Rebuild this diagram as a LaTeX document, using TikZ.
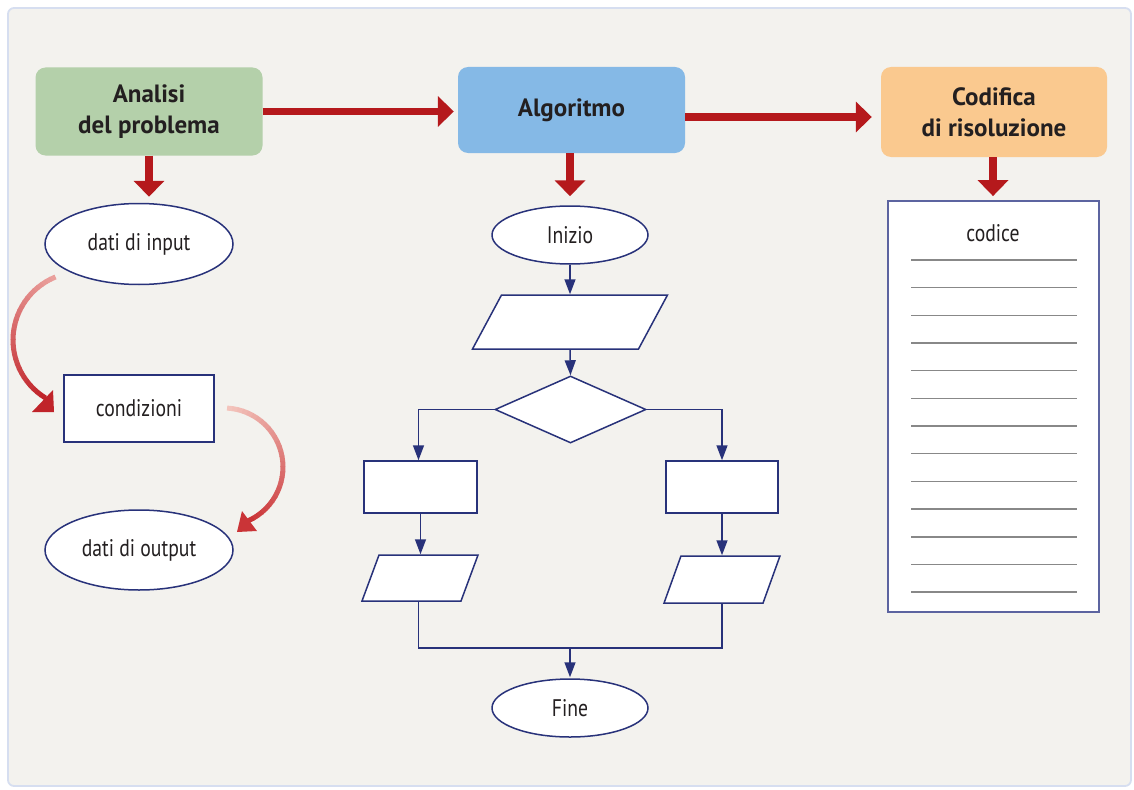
\documentclass[tikz,border=0pt]{standalone}
\usepackage{fontspec}
\setmainfont{PT Sans}
\newfontfamily\regfont[FakeStretch=0.82]{PT Sans}
\newfontfamily\headfont[FakeStretch=1.0]{PT Sans}
\usetikzlibrary{arrows.meta,shapes.geometric}

\definecolor{bgpanel}{RGB}{243,242,238}
\definecolor{panelrim}{RGB}{214,222,240}
\definecolor{greenbox}{RGB}{180,208,170}
\definecolor{bluebox}{RGB}{133,185,230}
\definecolor{orangebox}{RGB}{250,201,143}
\definecolor{darkred}{RGB}{181,25,28}
\definecolor{navy}{RGB}{40,50,122}
\definecolor{docrim}{RGB}{92,100,160}
\definecolor{rulegray}{RGB}{136,136,136}
\definecolor{inkgray}{RGB}{35,31,32}
\definecolor{curvelightA}{RGB}{234,160,156}
\definecolor{curvedarkA}{RGB}{192,36,42}
\definecolor{curvelightB}{RGB}{243,196,188}
\definecolor{curvedarkB}{RGB}{202,52,55}

\tikzset{
  headbox/.style={rounded corners=10pt, minimum width=227pt, minimum height=88pt,
    align=center, text=inkgray, font=\headfont\bfseries\fontsize{25}{31}\selectfont},
  redarrow/.style={draw=darkred, line width=7.5pt, -{Triangle[length=16pt,width=30pt]}},
  flowline/.style={draw=navy, line width=1.5pt},
  flowarrow/.style={flowline, -{Triangle[length=15pt,width=11pt]}},
  shapeline/.style={draw=navy, line width=1.5pt, fill=white, inner sep=0pt,
    text=inkgray, font=\regfont\fontsize{24}{28}\selectfont},
  termnode/.style={shapeline, ellipse, minimum width=156pt, minimum height=58pt},
  datanode/.style={shapeline, ellipse, minimum width=188pt, minimum height=81pt},
  procnode/.style={shapeline, rectangle, minimum width=113pt, minimum height=52pt},
  ionode/.style={shapeline, rectangle},
  decnode/.style={shapeline, diamond, minimum width=151pt, minimum height=67pt},
  curveline/.style={line width=5pt},
}

\begin{document}
\begin{tikzpicture}[x=1pt,y=-1pt]
\useasboundingbox (0,0) rectangle (1134,789);
\fill[white] (0,0) rectangle (1134,789);
\draw[fill=bgpanel, draw=panelrim, line width=1.8pt, rounded corners=6pt] (8,8) rectangle (1131,786);

% three stage boxes
\node[headbox, fill=greenbox] (an) at (149,111.5) {Analisi\\del problema};
\node[headbox, fill=bluebox, minimum height=86pt] (alg) at (571.5,110) {Algoritmo};
\node[headbox, fill=orangebox, minimum width=226pt, minimum height=90pt] (cod) at (994,112) {Codifica\\di risoluzione};

% left column: problem analysis
\node[datanode] (din) at (139,244) {dati di input};
\node[shapeline, rectangle, minimum width=150pt, minimum height=67pt] (cond) at (139,408.5) {condizioni};
\node[datanode, minimum height=80pt] (dout) at (139,550) {dati di output};

% middle column: flowchart
\node[termnode] (ini) at (570,235) {Inizio};
\node[ionode, xslant=0.537, minimum width=166pt, minimum height=54pt] (p1) at (570,322) {};
\node[decnode] (dia) at (570.5,409.5) {};
\node[procnode] (r1) at (420.5,487) {};
\node[procnode, minimum width=112pt] (r2) at (722,487) {};
\node[ionode, xslant=0.37, minimum width=99pt, minimum height=46pt] (q1) at (420,578) {};
\node[ionode, xslant=0.36, minimum width=99pt, minimum height=47pt] (q2) at (722,579.5) {};
\node[termnode] (fine) at (570,708) {Fine};
\coordinate (join) at (570,648);

% right column: code sheet
\node[draw=docrim, line width=1.8pt, fill=white, minimum width=211pt, minimum height=411pt,
      inner sep=0pt] (doc) at (993.5,406.5) {};
\node[text=inkgray, font=\regfont\fontsize{24}{28}\selectfont] (codtxt) at (993,233) {codice};
\foreach \k in {0,...,12}
  \draw[rulegray, line width=1.6pt] (911,260+27.67*\k) -- (1077,260+27.67*\k);

% thick red connectors
\draw[redarrow, shorten >=4pt] (an.east) -- (an.east -| alg.west);
\draw[redarrow, shorten >=9pt] ([yshift=-7pt]alg.east) -- ([yshift=-7pt]alg.east -| cod.west);
\draw[redarrow, shorten >=6pt] (an.south) -- (an.south |- din.north);
\draw[redarrow, shorten >=9pt] (alg.south -| ini.north) -- (ini.north);
\draw[redarrow, shorten >=4pt] (cod.south -| codtxt.north) -- (codtxt.north |- doc.north);

% flowchart connectors
\draw[flowarrow] (ini.south) -- (ini.south |- p1.north);
\draw[flowarrow] (ini.south |- p1.south) -- (dia.north);
\draw[flowarrow] (dia.west) -| ([xshift=-2pt]r1.north);
\draw[flowarrow] (dia.east) -| (r2.north);
\draw[flowarrow] (r1.south) -- (r1.south |- q1.north);
\draw[flowarrow] (r2.south) -- (r2.south |- q2.north);
\draw[flowline] ([xshift=-2pt]r1.south |- q1.south) |- (join) -| (r2.south |- q2.south);
\draw[flowarrow, shorten >=1pt] (join) -- (fine.north);

% curved arrows with a colour fade
\coordinate (c1) at (81,340);
\coordinate (c2) at (224,467);
\foreach \i in {0,...,29} {
  \pgfmathsetmacro\aa{248-\i*4.2}
  \pgfmathsetmacro\bb{\aa-4.8}
  \pgfmathtruncatemacro\mix{100*\i/29}
  \draw[curveline, draw=curvedarkA!\mix!curvelightA] ([shift={(\aa:68)}]c1) -- ([shift={(\bb:68)}]c1);
}
\fill[curvedarkA] (32,412) -- (53,390) -- (54,412) -- cycle;
\foreach \i in {0,...,29} {
  \pgfmathsetmacro\aa{-87+\i*5.07}
  \pgfmathsetmacro\bb{\aa+5.6}
  \pgfmathtruncatemacro\mix{100*\i/29}
  \draw[curveline, draw=curvedarkB!\mix!curvelightB] ([shift={(\aa:59)}]c2) -- ([shift={(\bb:59)}]c2);
}
\fill[curvedarkB] (242,511) -- (257,531) -- (237,532) -- cycle;
\end{tikzpicture}
\end{document}
